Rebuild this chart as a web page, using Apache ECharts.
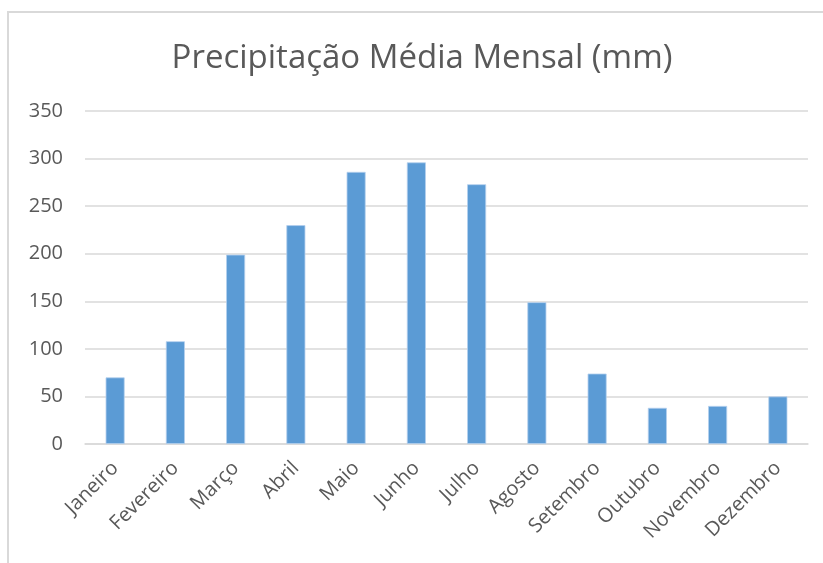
<!DOCTYPE html>
<html>
<head>
<meta charset="utf-8">
<script src="https://cdn.jsdelivr.net/npm/echarts@6/dist/echarts.min.js"></script>
<style>
  html, body { margin: 0; padding: 0; background: #fff; }
  #chart { width: 823px; height: 563px; }
</style>
</head>
<body>
<div id="chart"></div>
<script>
// Monthly average precipitation (mm)
const months = ['Janeiro', 'Fevereiro', 'Março', 'Abril', 'Maio', 'Junho',
                'Julho', 'Agosto', 'Setembro', 'Outubro', 'Novembro', 'Dezembro'];
const precipitation = [70, 108, 199, 230, 286, 296, 273, 149, 74, 38, 40, 50];
const titleText = 'Precipitação Média Mensal (mm)';

const chart = echarts.init(document.getElementById('chart'), null, { renderer: 'canvas' });

chart.setOption({
  animation: false,
  backgroundColor: '#ffffff',
  graphic: [{
    type: 'rect',
    shape: { x: 8, y: 12, width: 830, height: 600 },
    style: { fill: 'none', stroke: '#d9d9d9', lineWidth: 2 },
    silent: true
  }],
  title: {
    text: titleText,
    left: 417,
    textAlign: 'center',
    top: 37,
    textStyle: {
      fontFamily: 'Open Sans',
      fontWeight: 400,
      fontSize: 33,
      color: '#595959'
    }
  },
  grid: { left: 85, right: 15, top: 111, bottom: 119, containLabel: false },
  xAxis: {
    type: 'category',
    data: months,
    axisLine: { lineStyle: { color: '#d9d9d9', width: 1.5 } },
    axisTick: { show: false },
    axisLabel: {
      rotate: 45,
      margin: 21,
      fontFamily: 'Open Sans',
      fontSize: 20,
      color: '#595959',
      interval: 0
    }
  },
  yAxis: {
    type: 'value',
    min: 0,
    max: 350,
    interval: 50,
    axisLine: { show: false },
    axisTick: { show: false },
    splitLine: { lineStyle: { color: '#d9d9d9', width: 1.5 } },
    axisLabel: {
      margin: 22,
      fontFamily: 'Open Sans',
      fontSize: 20,
      color: '#595959'
    }
  },
  series: [{
    type: 'bar',
    data: precipitation,
    barWidth: 19,
    itemStyle: {
      color: '#5b9bd5',
      borderColor: '#b4cfee',
      borderWidth: 0.8
    }
  }]
});
</script>
</body>
</html>
